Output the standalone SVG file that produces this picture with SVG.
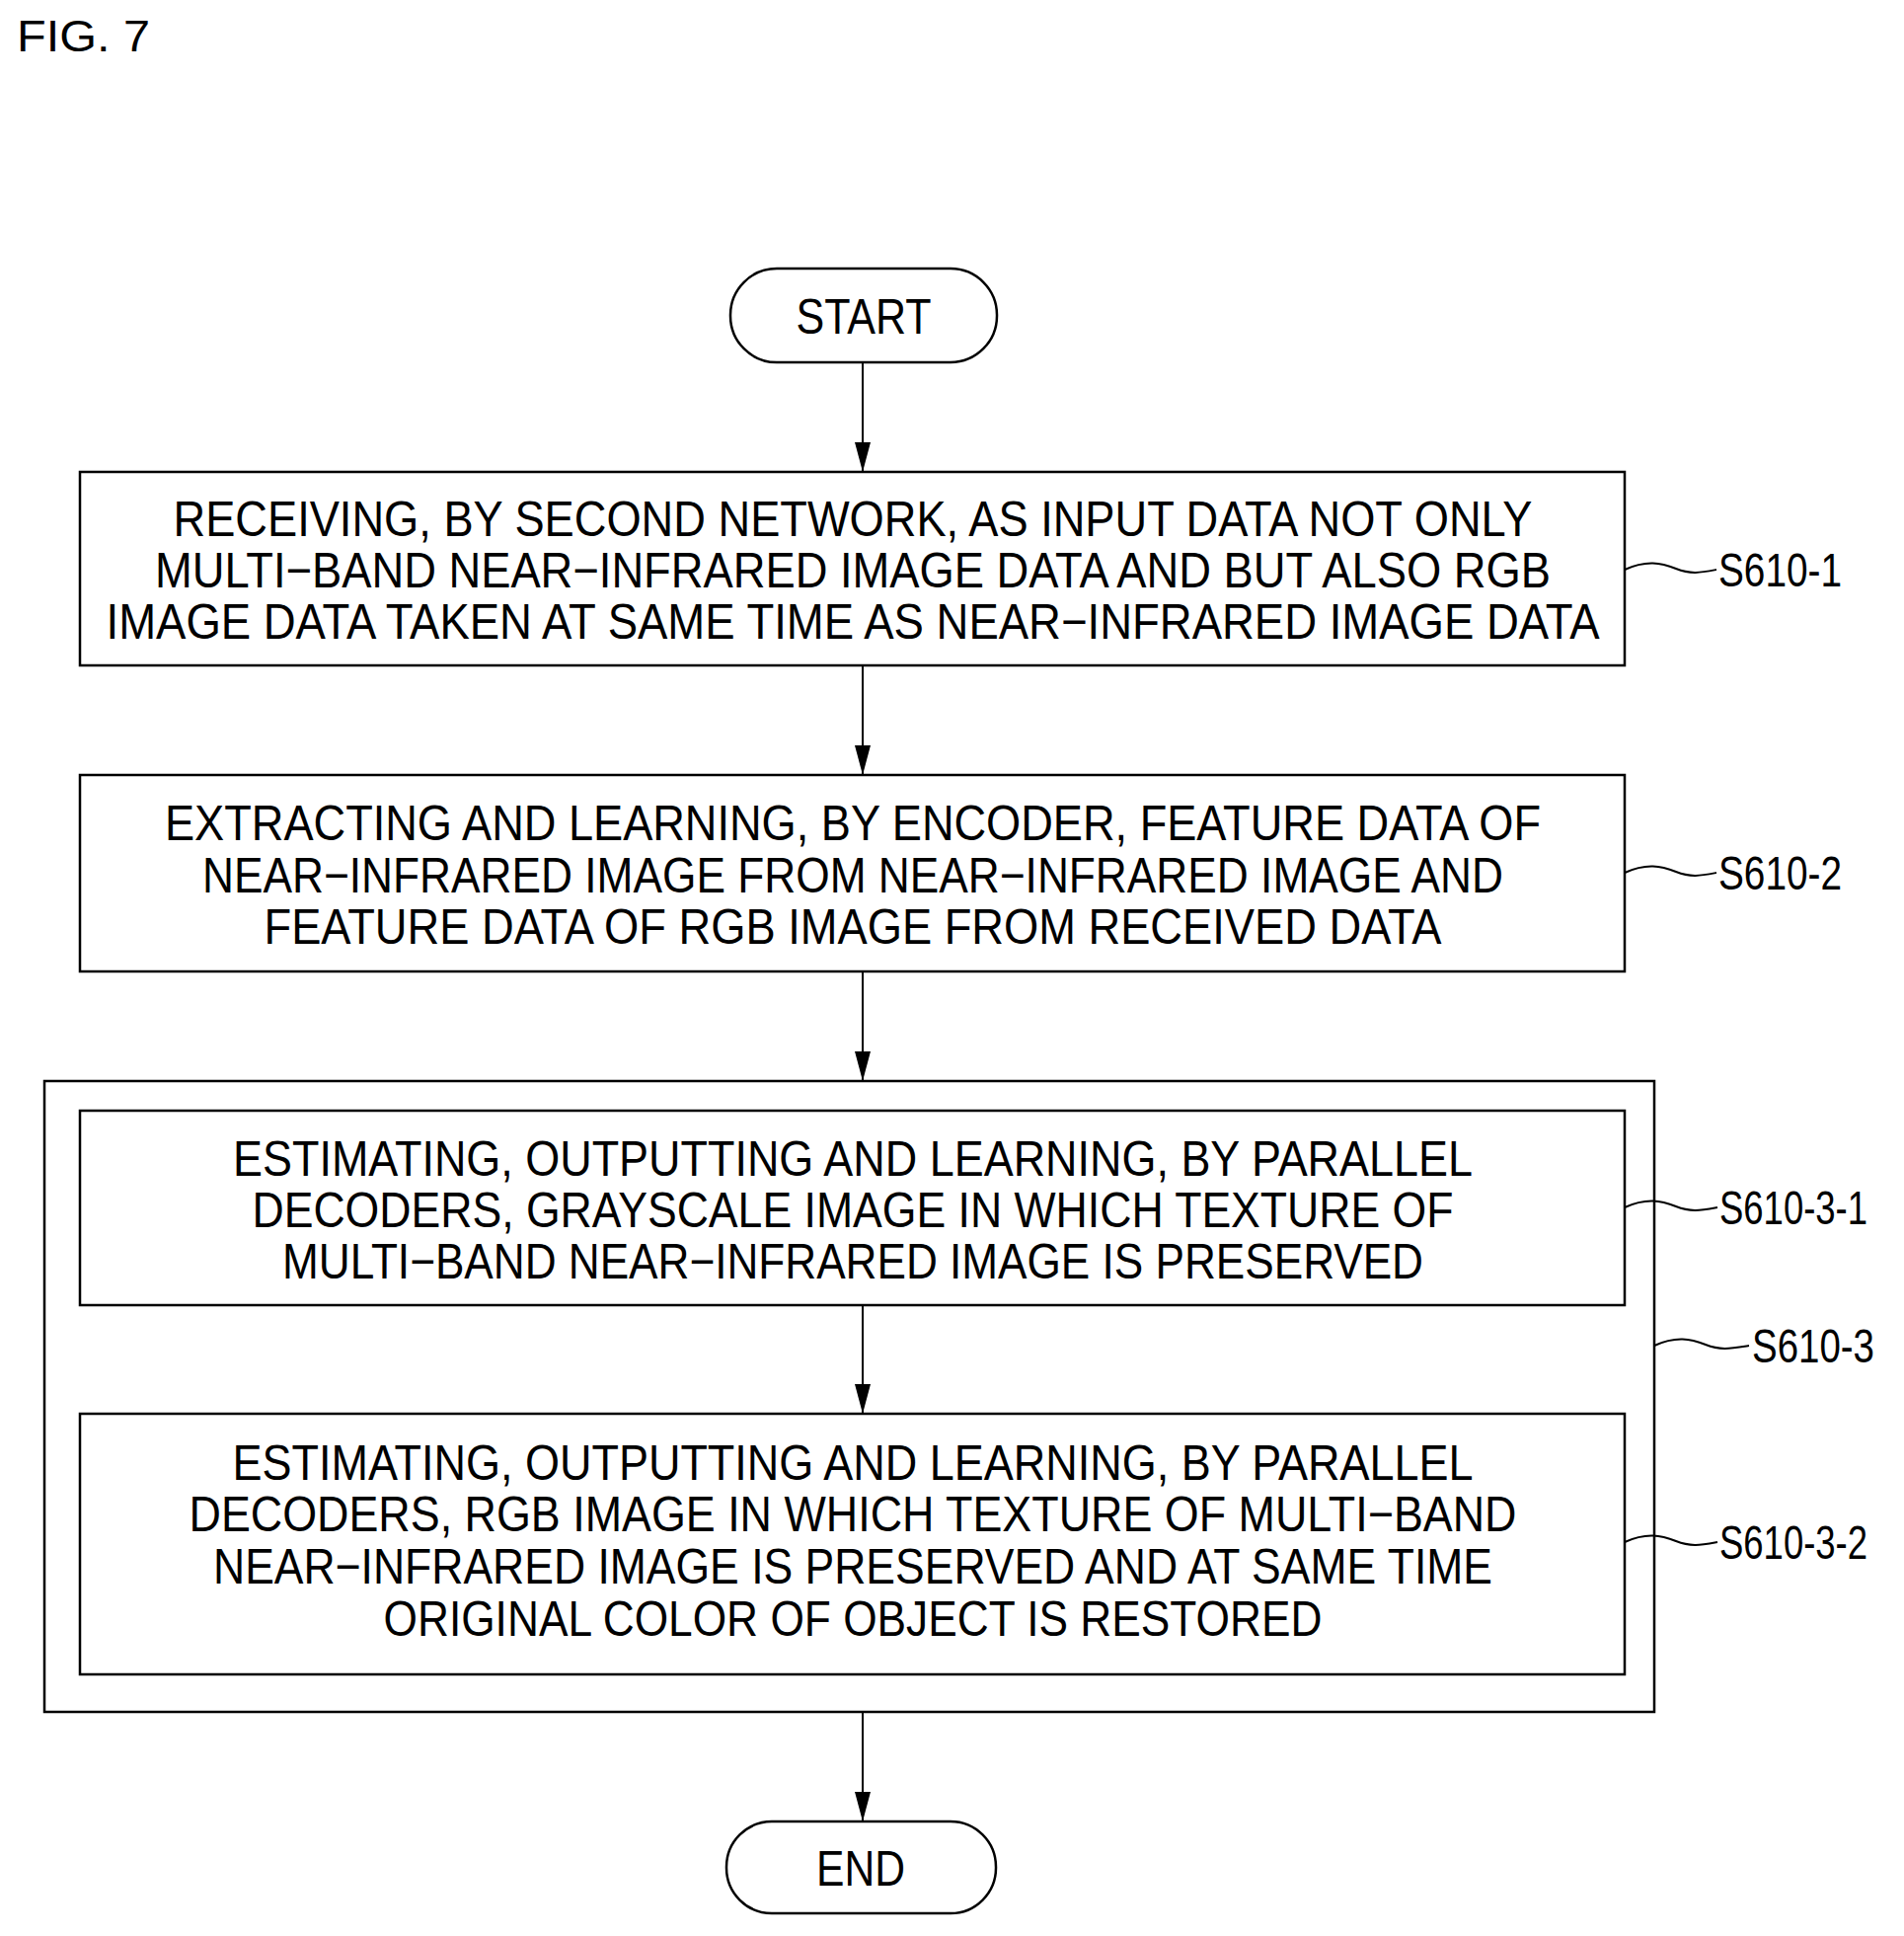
<svg xmlns="http://www.w3.org/2000/svg" width="1929" height="1961" viewBox="0 0 1929 1961">
<style>
.b{fill:#fff;stroke:#000;stroke-width:2.5}
.o{fill:none;stroke:#000;stroke-width:2.5}
.t{font-family:"Liberation Sans",Arial,sans-serif;font-size:50px;text-anchor:middle;fill:#000}
.l{font-family:"Liberation Sans",Arial,sans-serif;font-size:48px;fill:#000}
.c{fill:none;stroke:#000;stroke-width:2}
</style>
<defs>
<marker id="ah" viewBox="0 0 30 20" refX="30" refY="10" markerWidth="30" markerHeight="20" markerUnits="userSpaceOnUse" orient="auto"><path d="M0,2 L30,10 L0,18 z" fill="#000"/></marker></defs>
<rect width="1929" height="1961" fill="#fff"/>
<text x="17" y="52" font-family="Liberation Sans,Arial,sans-serif" font-size="44" textLength="135" lengthAdjust="spacingAndGlyphs">FIG. 7</text>
<g id="s610-3"><rect class="o" x="45" y="1095" width="1631" height="639"/>
<text class="l" x="1775" y="1380" textLength="124" lengthAdjust="spacingAndGlyphs">S610-3</text></g>
<g id="start"><rect class="b" x="740" y="272" width="270" height="95" rx="47"/><text class="t" x="875" y="338" textLength="137" lengthAdjust="spacingAndGlyphs">START</text></g>
<g id="s610-1"><rect class="b" x="81" y="478" width="1565" height="196"/>
<text class="t" x="864" y="543" textLength="1377" lengthAdjust="spacingAndGlyphs">RECEIVING, BY SECOND NETWORK, AS INPUT DATA NOT ONLY</text>
<text class="t" x="864" y="595" textLength="1414" lengthAdjust="spacingAndGlyphs">MULTI−BAND NEAR−INFRARED IMAGE DATA AND BUT ALSO RGB</text>
<text class="t" x="864" y="647" textLength="1513" lengthAdjust="spacingAndGlyphs">IMAGE DATA TAKEN AT SAME TIME AS NEAR−INFRARED IMAGE DATA</text>
<text class="l" x="1741" y="594" textLength="125" lengthAdjust="spacingAndGlyphs">S610-1</text></g>
<g id="s610-2"><rect class="b" x="81" y="785" width="1565" height="199"/>
<text class="t" x="864" y="851" textLength="1394" lengthAdjust="spacingAndGlyphs">EXTRACTING AND LEARNING, BY ENCODER, FEATURE DATA OF</text>
<text class="t" x="864" y="904" textLength="1318" lengthAdjust="spacingAndGlyphs">NEAR−INFRARED IMAGE FROM NEAR−INFRARED IMAGE AND</text>
<text class="t" x="864" y="956" textLength="1193" lengthAdjust="spacingAndGlyphs">FEATURE DATA OF RGB IMAGE FROM RECEIVED DATA</text>
<text class="l" x="1741" y="901" textLength="125" lengthAdjust="spacingAndGlyphs">S610-2</text></g>
<g id="s610-3-1"><rect class="b" x="81" y="1125" width="1565" height="197"/>
<text class="t" x="864" y="1191" textLength="1256" lengthAdjust="spacingAndGlyphs">ESTIMATING, OUTPUTTING AND LEARNING, BY PARALLEL</text>
<text class="t" x="864" y="1243" textLength="1217" lengthAdjust="spacingAndGlyphs">DECODERS, GRAYSCALE IMAGE IN WHICH TEXTURE OF</text>
<text class="t" x="864" y="1295" textLength="1156" lengthAdjust="spacingAndGlyphs">MULTI−BAND NEAR−INFRARED IMAGE IS PRESERVED</text>
<text class="l" x="1742" y="1240" textLength="150" lengthAdjust="spacingAndGlyphs">S610-3-1</text></g>
<g id="s610-3-2"><rect class="b" x="81" y="1432" width="1565" height="264"/>
<text class="t" x="864" y="1499" textLength="1257" lengthAdjust="spacingAndGlyphs">ESTIMATING, OUTPUTTING AND LEARNING, BY PARALLEL</text>
<text class="t" x="864" y="1551" textLength="1345" lengthAdjust="spacingAndGlyphs">DECODERS, RGB IMAGE IN WHICH TEXTURE OF MULTI−BAND</text>
<text class="t" x="864" y="1604" textLength="1296" lengthAdjust="spacingAndGlyphs">NEAR−INFRARED IMAGE IS PRESERVED AND AT SAME TIME</text>
<text class="t" x="864" y="1657" textLength="951" lengthAdjust="spacingAndGlyphs">ORIGINAL COLOR OF OBJECT IS RESTORED</text>
<text class="l" x="1742" y="1579" textLength="150" lengthAdjust="spacingAndGlyphs">S610-3-2</text></g>
<g id="end"><rect class="b" x="736" y="1845" width="273" height="93" rx="46"/><text class="t" x="872" y="1910" textLength="90" lengthAdjust="spacingAndGlyphs">END</text></g>
<g id="connectors">
<line class="c" x1="874" y1="367" x2="874" y2="478" marker-end="url(#ah)"/>
<line class="c" x1="874" y1="674" x2="874" y2="785" marker-end="url(#ah)"/>
<line class="c" x1="874" y1="984" x2="874" y2="1095" marker-end="url(#ah)"/>
<line class="c" x1="874" y1="1322" x2="874" y2="1432" marker-end="url(#ah)"/>
<line class="c" x1="874" y1="1734" x2="874" y2="1845" marker-end="url(#ah)"/>
<path class="c" d="M1646,577 C1668,567 1683,570 1698,576 C1713,582 1723,580 1739,577"/>
<path class="c" d="M1646,884 C1668,874 1683,877 1698,883 C1713,889 1723,887 1739,884"/>
<path class="c" d="M1646,1223 C1668,1213 1683,1216 1698,1222 C1713,1228 1723,1226 1740,1223"/>
<path class="c" d="M1676,1363 C1698,1353 1713,1356 1728,1362 C1743,1368 1753,1366 1772,1363"/>
<path class="c" d="M1646,1562 C1668,1552 1683,1555 1698,1561 C1713,1567 1723,1565 1740,1562"/>
</g>
</svg>
